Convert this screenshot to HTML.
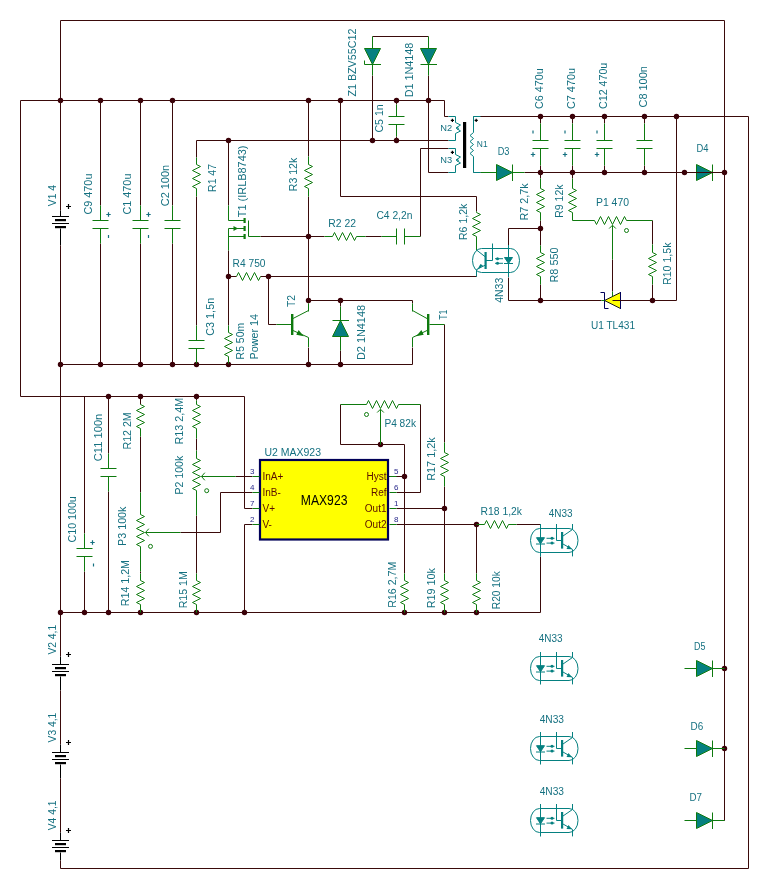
<!DOCTYPE html>
<html><head><meta charset="utf-8"><style>
html,body{margin:0;padding:0;background:#fff;}
svg{display:block;font-family:"Liberation Sans", sans-serif;will-change:transform;}
</style></head><body>
<svg width="768" height="889" viewBox="0 0 768 889">
<rect width="768" height="889" fill="#ffffff"/>
<polyline points="60.5,100.5 60.5,20.5 724.5,20.5 724.5,820.5 712.5,820.5" stroke="#3a0a0a" stroke-width="1" fill="none"/>
<polyline points="20.5,396.5 20.5,100.5 444.5,100.5 444.5,116.5 448.5,116.5" stroke="#3a0a0a" stroke-width="1" fill="none"/>
<circle cx="60.5" cy="100.5" r="2.7" fill="#3a0008"/>
<circle cx="100.5" cy="100.5" r="2.7" fill="#3a0008"/>
<circle cx="140.5" cy="100.5" r="2.7" fill="#3a0008"/>
<circle cx="172.5" cy="100.5" r="2.7" fill="#3a0008"/>
<circle cx="308.5" cy="100.5" r="2.7" fill="#3a0008"/>
<circle cx="340.5" cy="100.5" r="2.7" fill="#3a0008"/>
<circle cx="396.5" cy="100.5" r="2.7" fill="#3a0008"/>
<circle cx="428.5" cy="100.5" r="2.7" fill="#3a0008"/>
<polyline points="100.5,100.5 100.5,205.5" stroke="#3a0a0a" stroke-width="1" fill="none"/>
<polyline points="100.5,243.5 100.5,364.5" stroke="#3a0a0a" stroke-width="1" fill="none"/>
<polyline points="140.5,100.5 140.5,205.5" stroke="#3a0a0a" stroke-width="1" fill="none"/>
<polyline points="140.5,243.5 140.5,364.5" stroke="#3a0a0a" stroke-width="1" fill="none"/>
<polyline points="172.5,100.5 172.5,205.5" stroke="#3a0a0a" stroke-width="1" fill="none"/>
<polyline points="172.5,243.5 172.5,364.5" stroke="#3a0a0a" stroke-width="1" fill="none"/>
<polyline points="60.5,364.5 412.5,364.5 412.5,347.5" stroke="#3a0a0a" stroke-width="1" fill="none"/>
<circle cx="60.5" cy="364.5" r="2.7" fill="#3a0008"/>
<circle cx="100.5" cy="364.5" r="2.7" fill="#3a0008"/>
<circle cx="140.5" cy="364.5" r="2.7" fill="#3a0008"/>
<circle cx="172.5" cy="364.5" r="2.7" fill="#3a0008"/>
<circle cx="196.5" cy="364.5" r="2.7" fill="#3a0008"/>
<circle cx="228.5" cy="364.5" r="2.7" fill="#3a0008"/>
<circle cx="308.5" cy="364.5" r="2.7" fill="#3a0008"/>
<circle cx="340.5" cy="364.5" r="2.7" fill="#3a0008"/>
<polyline points="60.5,100.5 60.5,210.5" stroke="#3a0a0a" stroke-width="1" fill="none"/>
<polyline points="60.5,210.5 60.5,216.5" stroke="#000000" stroke-width="1" fill="none"/>
<polyline points="60.5,228.5 60.5,245.5" stroke="#000000" stroke-width="1" fill="none"/>
<polyline points="60.5,245.5 60.5,656.5" stroke="#3a0a0a" stroke-width="1" fill="none"/>
<polyline points="60.5,656.5 60.5,664.5" stroke="#000000" stroke-width="1" fill="none"/>
<polyline points="60.5,676.5 60.5,690.5" stroke="#000000" stroke-width="1" fill="none"/>
<polyline points="60.5,690.5 60.5,744.5" stroke="#3a0a0a" stroke-width="1" fill="none"/>
<polyline points="60.5,744.5 60.5,752.5" stroke="#000000" stroke-width="1" fill="none"/>
<polyline points="60.5,764.5 60.5,778.5" stroke="#000000" stroke-width="1" fill="none"/>
<polyline points="60.5,778.5 60.5,832.5" stroke="#3a0a0a" stroke-width="1" fill="none"/>
<polyline points="60.5,832.5 60.5,840.5" stroke="#000000" stroke-width="1" fill="none"/>
<polyline points="60.5,852.5 60.5,860.5" stroke="#000000" stroke-width="1" fill="none"/>
<polyline points="60.5,860.5 60.5,868.5 748.5,868.5 748.5,116.5 473.5,116.5" stroke="#3a0a0a" stroke-width="1" fill="none"/>
<polyline points="20.5,396.5 244.5,396.5 244.5,508.5 252.5,508.5" stroke="#3a0a0a" stroke-width="1" fill="none"/>
<circle cx="108.5" cy="396.5" r="2.7" fill="#3a0008"/>
<circle cx="140.5" cy="396.5" r="2.7" fill="#3a0008"/>
<circle cx="196.5" cy="396.5" r="2.7" fill="#3a0008"/>
<polyline points="84.5,396.5 84.5,533.5" stroke="#3a0a0a" stroke-width="1" fill="none"/>
<polyline points="84.5,571.5 84.5,612.5" stroke="#3a0a0a" stroke-width="1" fill="none"/>
<polyline points="108.5,396.5 108.5,453.5" stroke="#3a0a0a" stroke-width="1" fill="none"/>
<polyline points="108.5,491.5 108.5,612.5" stroke="#3a0a0a" stroke-width="1" fill="none"/>
<polyline points="60.5,612.5 540.5,612.5 540.5,556.5" stroke="#3a0a0a" stroke-width="1" fill="none"/>
<circle cx="60.5" cy="612.5" r="2.7" fill="#3a0008"/>
<circle cx="84.5" cy="612.5" r="2.7" fill="#3a0008"/>
<circle cx="108.5" cy="612.5" r="2.7" fill="#3a0008"/>
<circle cx="140.5" cy="612.5" r="2.7" fill="#3a0008"/>
<circle cx="196.5" cy="612.5" r="2.7" fill="#3a0008"/>
<circle cx="244.5" cy="612.5" r="2.7" fill="#3a0008"/>
<circle cx="404.5" cy="612.5" r="2.7" fill="#3a0008"/>
<circle cx="444.5" cy="612.5" r="2.7" fill="#3a0008"/>
<circle cx="476.5" cy="612.5" r="2.7" fill="#3a0008"/>
<polyline points="140.5,396.5 140.5,404.5" stroke="#3a0a0a" stroke-width="1" fill="none"/>
<polyline points="140.5,436.5 140.5,492.5" stroke="#3a0a0a" stroke-width="1" fill="none"/>
<polyline points="140.5,571.5 140.5,573.5" stroke="#3a0a0a" stroke-width="1" fill="none"/>
<polyline points="196.5,396.5 196.5,400.5" stroke="#3a0a0a" stroke-width="1" fill="none"/>
<polyline points="196.5,438.5 196.5,450.5" stroke="#3a0a0a" stroke-width="1" fill="none"/>
<polyline points="196.5,515.5 196.5,573.5" stroke="#3a0a0a" stroke-width="1" fill="none"/>
<polyline points="252.5,524.5 244.5,524.5 244.5,612.5" stroke="#3a0a0a" stroke-width="1" fill="none"/>
<polyline points="252.5,476.5 235.5,476.5" stroke="#3a0a0a" stroke-width="1" fill="none"/>
<polyline points="252.5,492.5 220.5,492.5 220.5,532.5 180.5,532.5" stroke="#3a0a0a" stroke-width="1" fill="none"/>
<polyline points="196.5,140.5 448.5,140.5" stroke="#3a0a0a" stroke-width="1" fill="none"/>
<circle cx="228.5" cy="140.5" r="2.7" fill="#3a0008"/>
<circle cx="372.5" cy="140.5" r="2.7" fill="#3a0008"/>
<circle cx="396.5" cy="140.5" r="2.7" fill="#3a0008"/>
<polyline points="196.5,140.5 196.5,157.5" stroke="#3a0a0a" stroke-width="1" fill="none"/>
<polyline points="196.5,196.5 196.5,325.5" stroke="#3a0a0a" stroke-width="1" fill="none"/>
<polyline points="196.5,363.5 196.5,364.5" stroke="#3a0a0a" stroke-width="1" fill="none"/>
<polyline points="228.5,140.5 228.5,205.5" stroke="#3a0a0a" stroke-width="1" fill="none"/>
<polyline points="228.5,250.5 228.5,325.5" stroke="#3a0a0a" stroke-width="1" fill="none"/>
<circle cx="228.5" cy="276.5" r="2.7" fill="#3a0008"/>
<polyline points="228.5,363.5 228.5,364.5" stroke="#3a0a0a" stroke-width="1" fill="none"/>
<polyline points="260.5,236.5 324.5,236.5" stroke="#3a0a0a" stroke-width="1" fill="none"/>
<polyline points="365.5,236.5 381.5,236.5" stroke="#3a0a0a" stroke-width="1" fill="none"/>
<polyline points="420.5,236.5 420.5,148.5 448.5,148.5" stroke="#3a0a0a" stroke-width="1" fill="none"/>
<circle cx="308.5" cy="236.5" r="2.7" fill="#3a0008"/>
<polyline points="308.5,100.5 308.5,156.5" stroke="#3a0a0a" stroke-width="1" fill="none"/>
<polyline points="308.5,196.5 308.5,303.5" stroke="#3a0a0a" stroke-width="1" fill="none"/>
<circle cx="308.5" cy="300.5" r="2.7" fill="#3a0008"/>
<polyline points="308.5,347.5 308.5,364.5" stroke="#3a0a0a" stroke-width="1" fill="none"/>
<polyline points="228.5,276.5 236.5,276.5" stroke="#3a0a0a" stroke-width="1" fill="none"/>
<polyline points="260.5,276.5 476.5,276.5 476.5,270.5" stroke="#3a0a0a" stroke-width="1" fill="none"/>
<circle cx="268.5" cy="276.5" r="2.7" fill="#3a0008"/>
<polyline points="268.5,276.5 268.5,324.5 276.5,324.5" stroke="#3a0a0a" stroke-width="1" fill="none"/>
<polyline points="308.5,300.5 412.5,300.5 412.5,303.5" stroke="#3a0a0a" stroke-width="1" fill="none"/>
<circle cx="340.5" cy="300.5" r="2.7" fill="#3a0008"/>
<polyline points="340.5,300.5 340.5,306.5" stroke="#3a0a0a" stroke-width="1" fill="none"/>
<polyline points="340.5,350.5 340.5,364.5" stroke="#3a0a0a" stroke-width="1" fill="none"/>
<polyline points="340.5,100.5 340.5,196.5 476.5,196.5 476.5,211.5" stroke="#3a0a0a" stroke-width="1" fill="none"/>
<polyline points="372.5,140.5 372.5,75.5" stroke="#3a0a0a" stroke-width="1" fill="none"/>
<polyline points="372.5,36.5 428.5,36.5" stroke="#3a0a0a" stroke-width="1" fill="none"/>
<polyline points="428.5,75.5 428.5,172.5 448.5,172.5" stroke="#3a0a0a" stroke-width="1" fill="none"/>
<polyline points="396.5,100.5 396.5,104.5" stroke="#3a0a0a" stroke-width="1" fill="none"/>
<polyline points="396.5,136.5 396.5,140.5" stroke="#3a0a0a" stroke-width="1" fill="none"/>
<polyline points="473.5,172.5 480.5,172.5" stroke="#3a0a0a" stroke-width="1" fill="none"/>
<polyline points="524.5,172.5 684.5,172.5" stroke="#3a0a0a" stroke-width="1" fill="none"/>
<polyline points="684.5,172.5 724.5,172.5" stroke="#3a0a0a" stroke-width="1" fill="none"/>
<circle cx="540.5" cy="116.5" r="2.7" fill="#3a0008"/>
<circle cx="540.5" cy="172.5" r="2.7" fill="#3a0008"/>
<circle cx="572.5" cy="116.5" r="2.7" fill="#3a0008"/>
<circle cx="572.5" cy="172.5" r="2.7" fill="#3a0008"/>
<circle cx="604.5" cy="116.5" r="2.7" fill="#3a0008"/>
<circle cx="604.5" cy="172.5" r="2.7" fill="#3a0008"/>
<circle cx="644.5" cy="116.5" r="2.7" fill="#3a0008"/>
<circle cx="644.5" cy="172.5" r="2.7" fill="#3a0008"/>
<circle cx="676.5" cy="116.5" r="2.7" fill="#3a0008"/>
<circle cx="684.5" cy="172.5" r="2.7" fill="#3a0008"/>
<circle cx="724.5" cy="172.5" r="2.7" fill="#3a0008"/>
<polyline points="676.5,116.5 676.5,300.5 652.5,300.5" stroke="#3a0a0a" stroke-width="1" fill="none"/>
<polyline points="540.5,116.5 540.5,123.5" stroke="#3a0a0a" stroke-width="1" fill="none"/>
<polyline points="540.5,165.5 540.5,172.5" stroke="#3a0a0a" stroke-width="1" fill="none"/>
<polyline points="572.5,116.5 572.5,123.5" stroke="#3a0a0a" stroke-width="1" fill="none"/>
<polyline points="572.5,165.5 572.5,172.5" stroke="#3a0a0a" stroke-width="1" fill="none"/>
<polyline points="604.5,116.5 604.5,123.5" stroke="#3a0a0a" stroke-width="1" fill="none"/>
<polyline points="604.5,165.5 604.5,172.5" stroke="#3a0a0a" stroke-width="1" fill="none"/>
<polyline points="644.5,116.5 644.5,123.5" stroke="#3a0a0a" stroke-width="1" fill="none"/>
<polyline points="644.5,165.5 644.5,172.5" stroke="#3a0a0a" stroke-width="1" fill="none"/>
<polyline points="540.5,172.5 540.5,178.5" stroke="#3a0a0a" stroke-width="1" fill="none"/>
<polyline points="540.5,220.5 540.5,245.5" stroke="#3a0a0a" stroke-width="1" fill="none"/>
<polyline points="508.5,245.5 508.5,228.5 540.5,228.5" stroke="#3a0a0a" stroke-width="1" fill="none"/>
<circle cx="540.5" cy="228.5" r="2.7" fill="#3a0008"/>
<polyline points="540.5,284.5 540.5,300.5" stroke="#3a0a0a" stroke-width="1" fill="none"/>
<polyline points="508.5,277.5 508.5,300.5 601.5,300.5" stroke="#3a0a0a" stroke-width="1" fill="none"/>
<circle cx="540.5" cy="300.5" r="2.7" fill="#3a0008"/>
<polyline points="620.5,300.5 652.5,300.5" stroke="#3a0a0a" stroke-width="1" fill="none"/>
<circle cx="652.5" cy="300.5" r="2.7" fill="#3a0008"/>
<polyline points="652.5,284.5 652.5,300.5" stroke="#3a0a0a" stroke-width="1" fill="none"/>
<polyline points="572.5,172.5 572.5,178.5" stroke="#3a0a0a" stroke-width="1" fill="none"/>
<polyline points="612.5,259.5 612.5,291.5" stroke="#3a0a0a" stroke-width="1" fill="none"/>
<polyline points="444.5,324.5 444.5,442.5" stroke="#3a0a0a" stroke-width="1" fill="none"/>
<polyline points="444.5,486.5 444.5,573.5" stroke="#3a0a0a" stroke-width="1" fill="none"/>
<circle cx="444.5" cy="508.5" r="2.7" fill="#3a0008"/>
<polyline points="340.5,404.5 340.5,444.5 404.5,444.5 404.5,573.5" stroke="#3a0a0a" stroke-width="1" fill="none"/>
<circle cx="380.5" cy="444.5" r="2.7" fill="#3a0008"/>
<circle cx="404.5" cy="476.5" r="2.7" fill="#3a0008"/>
<polyline points="388.5,476.5 404.5,476.5" stroke="#3a0a0a" stroke-width="1" fill="none"/>
<polyline points="420.5,404.5 420.5,492.5 396.5,492.5" stroke="#3a0a0a" stroke-width="1" fill="none"/>
<polyline points="396.5,508.5 444.5,508.5" stroke="#3a0a0a" stroke-width="1" fill="none"/>
<polyline points="396.5,524.5 476.5,524.5 476.5,573.5" stroke="#3a0a0a" stroke-width="1" fill="none"/>
<circle cx="476.5" cy="524.5" r="2.7" fill="#3a0008"/>
<polyline points="516.5,524.5 540.5,524.5" stroke="#3a0a0a" stroke-width="1" fill="none"/>
<polyline points="724.5,668.5 712.5,668.5" stroke="#3a0a0a" stroke-width="1" fill="none"/>
<polyline points="724.5,748.5 712.5,748.5" stroke="#3a0a0a" stroke-width="1" fill="none"/>
<circle cx="724.5" cy="668.5" r="2.7" fill="#3a0008"/>
<circle cx="724.5" cy="748.5" r="2.7" fill="#3a0008"/>
<polyline points="100.5,205.5 100.5,220.5" stroke="#0e7a0e" stroke-width="1" fill="none"/>
<polyline points="100.5,228.5 100.5,243.5" stroke="#0e7a0e" stroke-width="1" fill="none"/>
<polyline points="92.5,220.5 108.5,220.5" stroke="#0e7a0e" stroke-width="1" fill="none"/>
<polyline points="92.5,228.5 108.5,228.5" stroke="#0e7a0e" stroke-width="1" fill="none"/>
<polyline points="140.5,205.5 140.5,220.5" stroke="#0e7a0e" stroke-width="1" fill="none"/>
<polyline points="140.5,228.5 140.5,243.5" stroke="#0e7a0e" stroke-width="1" fill="none"/>
<polyline points="132.5,220.5 148.5,220.5" stroke="#0e7a0e" stroke-width="1" fill="none"/>
<polyline points="132.5,228.5 148.5,228.5" stroke="#0e7a0e" stroke-width="1" fill="none"/>
<polyline points="172.5,205.5 172.5,220.5" stroke="#0e7a0e" stroke-width="1" fill="none"/>
<polyline points="172.5,228.5 172.5,243.5" stroke="#0e7a0e" stroke-width="1" fill="none"/>
<polyline points="164.5,220.5 180.5,220.5" stroke="#0e7a0e" stroke-width="1" fill="none"/>
<polyline points="164.5,228.5 180.5,228.5" stroke="#0e7a0e" stroke-width="1" fill="none"/>
<path d="M106.3 214.5H110.7M108.5 212.3V216.7" stroke="#147080" stroke-width="1.2" fill="none"/>
<path d="M108.5 235V238" stroke="#147080" stroke-width="1.2" fill="none"/>
<path d="M146.3 214.5H150.7M148.5 212.3V216.7" stroke="#147080" stroke-width="1.2" fill="none"/>
<path d="M148.5 235V238" stroke="#147080" stroke-width="1.2" fill="none"/>
<path d="M52 216.5H69M52 223.5H69" stroke="#000000" stroke-width="1.1" fill="none"/>
<rect x="55" y="219" width="11" height="2.2" fill="#000000"/>
<rect x="55" y="226" width="11" height="2.2" fill="#000000"/>
<path d="M66 206.5H71M68.5 204V209" stroke="#000000" stroke-width="1.2" fill="none"/>
<path d="M52 664.5H69M52 671.5H69" stroke="#000000" stroke-width="1.1" fill="none"/>
<rect x="55" y="667" width="11" height="2.2" fill="#000000"/>
<rect x="55" y="674" width="11" height="2.2" fill="#000000"/>
<path d="M66 654.5H71M68.5 652V657" stroke="#000000" stroke-width="1.2" fill="none"/>
<path d="M52 752.5H69M52 759.5H69" stroke="#000000" stroke-width="1.1" fill="none"/>
<rect x="55" y="755" width="11" height="2.2" fill="#000000"/>
<rect x="55" y="762" width="11" height="2.2" fill="#000000"/>
<path d="M66 742.5H71M68.5 740V745" stroke="#000000" stroke-width="1.2" fill="none"/>
<path d="M52 840.5H69M52 847.5H69" stroke="#000000" stroke-width="1.1" fill="none"/>
<rect x="55" y="843" width="11" height="2.2" fill="#000000"/>
<rect x="55" y="850" width="11" height="2.2" fill="#000000"/>
<path d="M66 830.5H71M68.5 828V833" stroke="#000000" stroke-width="1.2" fill="none"/>
<polyline points="196.5,157.5 196.5,164.5 200.5,166.5 192.5,170.5 200.5,174.5 192.5,178.5 200.5,182.5 192.5,186.5 196.5,188.5 196.5,196.5" stroke="#0e7a0e" stroke-width="1" fill="none"/>
<polyline points="196.5,325.5 196.5,340.5" stroke="#0e7a0e" stroke-width="1" fill="none"/>
<polyline points="196.5,348.5 196.5,363.5" stroke="#0e7a0e" stroke-width="1" fill="none"/>
<polyline points="188.5,340.5 204.5,340.5" stroke="#0e7a0e" stroke-width="1" fill="none"/>
<polyline points="188.5,348.5 204.5,348.5" stroke="#0e7a0e" stroke-width="1" fill="none"/>
<polyline points="228.5,325.5 228.5,332.5 232.5,334.5 224.5,338.5 232.5,342.5 224.5,346.5 232.5,350.5 224.5,354.5 228.5,356.5 228.5,363.5" stroke="#0e7a0e" stroke-width="1" fill="none"/>
<polyline points="308.5,156.5 308.5,164.5 312.5,166.5 304.5,170.5 312.5,174.5 304.5,178.5 312.5,182.5 304.5,186.5 308.5,188.5 308.5,196.5" stroke="#0e7a0e" stroke-width="1" fill="none"/>
<polyline points="236.5,276.5 236.5,276.5 238.5,272.5 242.5,280.5 246.5,272.5 250.5,280.5 254.5,272.5 258.5,280.5 260.5,276.5 260.5,276.5" stroke="#0e7a0e" stroke-width="1" fill="none"/>
<polyline points="324.5,236.5 332.5,236.5 334.5,232.5 338.5,240.5 342.5,232.5 346.5,240.5 350.5,232.5 354.5,240.5 356.5,236.5 365.5,236.5" stroke="#0e7a0e" stroke-width="1" fill="none"/>
<polyline points="381.5,236.5 396.5,236.5" stroke="#0e7a0e" stroke-width="1" fill="none"/>
<polyline points="404.5,236.5 420.5,236.5" stroke="#0e7a0e" stroke-width="1" fill="none"/>
<polyline points="396.5,228.5 396.5,244.5" stroke="#0e7a0e" stroke-width="1" fill="none"/>
<polyline points="404.5,228.5 404.5,244.5" stroke="#0e7a0e" stroke-width="1" fill="none"/>
<polyline points="396.5,104.5 396.5,116.5" stroke="#0e7a0e" stroke-width="1" fill="none"/>
<polyline points="396.5,124.5 396.5,136.5" stroke="#0e7a0e" stroke-width="1" fill="none"/>
<polyline points="388.5,116.5 404.5,116.5" stroke="#0e7a0e" stroke-width="1" fill="none"/>
<polyline points="388.5,124.5 404.5,124.5" stroke="#0e7a0e" stroke-width="1" fill="none"/>
<polyline points="476.5,211.5 476.5,212.5 480.5,214.5 472.5,218.5 480.5,222.5 472.5,226.5 480.5,230.5 472.5,234.5 476.5,236.5 476.5,250.5" stroke="#0e7a0e" stroke-width="1" fill="none"/>
<polyline points="540.5,178.5 540.5,188.5 544.5,190.5 536.5,194.5 544.5,198.5 536.5,202.5 544.5,206.5 536.5,210.5 540.5,212.5 540.5,220.5" stroke="#0e7a0e" stroke-width="1" fill="none"/>
<polyline points="572.5,178.5 572.5,188.5 576.5,190.5 568.5,194.5 576.5,198.5 568.5,202.5 576.5,206.5 568.5,210.5 572.5,212.5 572.5,220.5" stroke="#0e7a0e" stroke-width="1" fill="none"/>
<polyline points="572.5,220.5 594.5,220.5" stroke="#0e7a0e" stroke-width="1" fill="none"/>
<polyline points="540.5,245.5 540.5,252.5 544.5,254.5 536.5,258.5 544.5,262.5 536.5,266.5 544.5,270.5 536.5,274.5 540.5,276.5 540.5,284.5" stroke="#0e7a0e" stroke-width="1" fill="none"/>
<polyline points="652.5,220.5 652.5,244.5" stroke="#3a0a0a" stroke-width="1" fill="none"/>
<polyline points="652.5,244.5 652.5,252.5 656.5,254.5 648.5,258.5 656.5,262.5 648.5,266.5 656.5,270.5 648.5,274.5 652.5,276.5 652.5,284.5" stroke="#0e7a0e" stroke-width="1" fill="none"/>
<polyline points="540.5,123.5 540.5,140.5" stroke="#0e7a0e" stroke-width="1" fill="none"/>
<polyline points="540.5,148.5 540.5,165.5" stroke="#0e7a0e" stroke-width="1" fill="none"/>
<polyline points="532.5,140.5 548.5,140.5" stroke="#0e7a0e" stroke-width="1" fill="none"/>
<polyline points="532.5,148.5 548.5,148.5" stroke="#0e7a0e" stroke-width="1" fill="none"/>
<polyline points="572.5,123.5 572.5,140.5" stroke="#0e7a0e" stroke-width="1" fill="none"/>
<polyline points="572.5,148.5 572.5,165.5" stroke="#0e7a0e" stroke-width="1" fill="none"/>
<polyline points="564.5,140.5 580.5,140.5" stroke="#0e7a0e" stroke-width="1" fill="none"/>
<polyline points="564.5,148.5 580.5,148.5" stroke="#0e7a0e" stroke-width="1" fill="none"/>
<polyline points="604.5,123.5 604.5,140.5" stroke="#0e7a0e" stroke-width="1" fill="none"/>
<polyline points="604.5,148.5 604.5,165.5" stroke="#0e7a0e" stroke-width="1" fill="none"/>
<polyline points="596.5,140.5 612.5,140.5" stroke="#0e7a0e" stroke-width="1" fill="none"/>
<polyline points="596.5,148.5 612.5,148.5" stroke="#0e7a0e" stroke-width="1" fill="none"/>
<polyline points="644.5,123.5 644.5,140.5" stroke="#0e7a0e" stroke-width="1" fill="none"/>
<polyline points="644.5,148.5 644.5,165.5" stroke="#0e7a0e" stroke-width="1" fill="none"/>
<polyline points="636.5,140.5 652.5,140.5" stroke="#0e7a0e" stroke-width="1" fill="none"/>
<polyline points="636.5,148.5 652.5,148.5" stroke="#0e7a0e" stroke-width="1" fill="none"/>
<path d="M533 130.5V133.5" stroke="#147080" stroke-width="1.2" fill="none"/>
<path d="M530.8 154.5H535.2M533 152.3V156.7" stroke="#147080" stroke-width="1.2" fill="none"/>
<path d="M565 130.5V133.5" stroke="#147080" stroke-width="1.2" fill="none"/>
<path d="M562.8 154.5H567.2M565 152.3V156.7" stroke="#147080" stroke-width="1.2" fill="none"/>
<path d="M597 130.5V133.5" stroke="#147080" stroke-width="1.2" fill="none"/>
<path d="M594.8 154.5H599.2M597 152.3V156.7" stroke="#147080" stroke-width="1.2" fill="none"/>
<polyline points="594.5,220.5 596.5,224.5 600.5,216.5 604.5,224.5 608.5,216.5 612.5,224.5 616.5,216.5 620.5,224.5 624.5,216.5 626.5,220.5 652.5,220.5" stroke="#0e7a0e" stroke-width="1" fill="none"/>
<polyline points="612.5,225.5 612.5,259.5" stroke="#0e7a0e" stroke-width="1" fill="none"/>
<path d="M609.2 228.5L612.5 225.2L615.8 228.5" stroke="#0e7a0e" fill="none"/>
<circle cx="626.5" cy="230.5" r="2" stroke="#0e7a0e" fill="none"/>
<path d="M620.5 292.5V308.5L604.5 300.5Z" fill="#ffff00" stroke="#181818"/>
<path d="M600.5 292.5H604.5V308.5H608.5M620.5 292V309" stroke="#000058" fill="none"/>
<polyline points="612.5,291.5 612.5,296.5" stroke="#0e7a0e" stroke-width="1" fill="none"/>
<polyline points="612.5,300.5 628.5,300.5" stroke="#3a0a0a" stroke-width="1" fill="none"/>
<polyline points="601.5,300.5 604.5,300.5" stroke="#0e7a0e" stroke-width="1" fill="none"/>
<polyline points="340.5,306.5 340.5,350.5" stroke="#0e7a0e" stroke-width="1" fill="none"/>
<path d="M332.5 336.5H348.5L340.5 320.5Z" fill="#058080" stroke="#0e7a0e" stroke-width="1"/>
<path d="M332.5 320.5H349" stroke="#0e7a0e" fill="none"/>
<polyline points="276.5,324.5 291.5,324.5" stroke="#0e7a0e" stroke-width="1" fill="none"/>
<rect x="291" y="314" width="2.4" height="21" fill="#0e7a0e"/>
<polyline points="308.5,303.5 308.5,311.5" stroke="#0e7a0e" stroke-width="1" fill="none"/>
<path d="M293 318.5L308.5 310.5" stroke="#0e7a0e" fill="none"/>
<path d="M293 330.5L308.5 337.5V347" stroke="#0e7a0e" fill="none"/>
<path d="M303.8 336.3L296.3 334.8L298.6 330.1Z" fill="#0e7a0e"/>
<polyline points="412.5,303.5 412.5,311.5" stroke="#0e7a0e" stroke-width="1" fill="none"/>
<rect x="427" y="314" width="2.4" height="21" fill="#0e7a0e"/>
<path d="M427 318.5L412.5 310.5" stroke="#0e7a0e" fill="none"/>
<path d="M427 330.5L412.5 337.5V347" stroke="#0e7a0e" fill="none"/>
<path d="M416.2 336.3L423.7 334.8L421.4 330.1Z" fill="#0e7a0e"/>
<polyline points="429.5,324.5 444.5,324.5" stroke="#0e7a0e" stroke-width="1" fill="none"/>
<polyline points="228.5,205.5 228.5,220.5 244.5,220.5" stroke="#0e7a0e" stroke-width="1" fill="none"/>
<polyline points="228.5,250.5 228.5,228.5 244.5,228.5" stroke="#0e7a0e" stroke-width="1" fill="none"/>
<polyline points="228.5,236.5 244.5,236.5" stroke="#0e7a0e" stroke-width="1" fill="none"/>
<rect x="243.5" y="218" width="2.2" height="5" fill="#0e7a0e"/>
<rect x="243.5" y="226" width="2.2" height="5" fill="#0e7a0e"/>
<rect x="243.5" y="234" width="2.2" height="5" fill="#0e7a0e"/>
<path d="M233.5 226L238 228.5L233.5 231Z" fill="#0e7a0e"/>
<polyline points="248.5,220.5 248.5,236.5 260.5,236.5" stroke="#0e7a0e" stroke-width="1" fill="none"/>
<polyline points="372.5,36.5 372.5,48.5" stroke="#0e7a0e" stroke-width="1" fill="none"/>
<polyline points="372.5,64.5 372.5,75.5" stroke="#0e7a0e" stroke-width="1" fill="none"/>
<polyline points="428.5,36.5 428.5,48.5" stroke="#0e7a0e" stroke-width="1" fill="none"/>
<polyline points="428.5,64.5 428.5,75.5" stroke="#0e7a0e" stroke-width="1" fill="none"/>
<path d="M364.5 48.5H380.5L372.5 64.5Z" fill="#058080" stroke="#0e7a0e" stroke-width="1"/>
<path d="M364.5 60.5V64.5H381" stroke="#0e7a0e" fill="none"/>
<path d="M420.5 48.5H436.5L428.5 64.5Z" fill="#058080" stroke="#0e7a0e" stroke-width="1"/>
<path d="M420.5 64.5H437" stroke="#0e7a0e" fill="none"/>
<polyline points="480.5,172.5 496.5,172.5" stroke="#0e7a0e" stroke-width="1" fill="none"/>
<polyline points="512.5,172.5 524.5,172.5" stroke="#0e7a0e" stroke-width="1" fill="none"/>
<path d="M496.5 164.5V180.5L512.5 172.5Z" fill="#058080" stroke="#0e7a0e" stroke-width="1"/>
<path d="M512.5 164.5V181" stroke="#0e7a0e" fill="none"/>
<path d="M696.5 164.5V180.5L712.5 172.5Z" fill="#058080" stroke="#0e7a0e" stroke-width="1"/>
<path d="M712.5 164.5V181" stroke="#0e7a0e" fill="none"/>
<polyline points="684.5,172.5 724.5,172.5" stroke="#3a0a0a" stroke-width="1" fill="none"/>
<polyline points="684.5,668.5 696.5,668.5" stroke="#0e7a0e" stroke-width="1" fill="none"/>
<polyline points="712.5,668.5 724.5,668.5" stroke="#0e7a0e" stroke-width="1" fill="none"/>
<path d="M696.5 660.5V676.5L712.5 668.5Z" fill="#058080" stroke="#0e7a0e" stroke-width="1"/>
<path d="M712.5 660.5V677" stroke="#0e7a0e" fill="none"/>
<polyline points="684.5,748.5 696.5,748.5" stroke="#0e7a0e" stroke-width="1" fill="none"/>
<polyline points="712.5,748.5 724.5,748.5" stroke="#0e7a0e" stroke-width="1" fill="none"/>
<path d="M696.5 740.5V756.5L712.5 748.5Z" fill="#058080" stroke="#0e7a0e" stroke-width="1"/>
<path d="M712.5 740.5V757" stroke="#0e7a0e" fill="none"/>
<polyline points="684.5,820.5 696.5,820.5" stroke="#0e7a0e" stroke-width="1" fill="none"/>
<polyline points="712.5,820.5 712.5,820.5" stroke="#0e7a0e" stroke-width="1" fill="none"/>
<path d="M696.5 812.5V828.5L712.5 820.5Z" fill="#058080" stroke="#0e7a0e" stroke-width="1"/>
<path d="M712.5 812.5V829" stroke="#0e7a0e" fill="none"/>
<polyline points="712.5,820.5 724.5,820.5" stroke="#0e7a0e" stroke-width="1" fill="none"/>
<polyline points="84.5,533.5 84.5,548.5" stroke="#0e7a0e" stroke-width="1" fill="none"/>
<polyline points="84.5,556.5 84.5,571.5" stroke="#0e7a0e" stroke-width="1" fill="none"/>
<polyline points="76.5,548.5 92.5,548.5" stroke="#0e7a0e" stroke-width="1" fill="none"/>
<polyline points="76.5,556.5 92.5,556.5" stroke="#0e7a0e" stroke-width="1" fill="none"/>
<path d="M90.3 542.5H94.7M92.5 540.3V544.7" stroke="#147080" stroke-width="1.2" fill="none"/>
<path d="M93.5 563.5V566.5" stroke="#147080" stroke-width="1.2" fill="none"/>
<polyline points="108.5,453.5 108.5,468.5" stroke="#0e7a0e" stroke-width="1" fill="none"/>
<polyline points="108.5,476.5 108.5,491.5" stroke="#0e7a0e" stroke-width="1" fill="none"/>
<polyline points="100.5,468.5 116.5,468.5" stroke="#0e7a0e" stroke-width="1" fill="none"/>
<polyline points="100.5,476.5 116.5,476.5" stroke="#0e7a0e" stroke-width="1" fill="none"/>
<polyline points="140.5,404.5 140.5,404.5 144.5,406.5 136.5,410.5 144.5,414.5 136.5,418.5 144.5,422.5 136.5,426.5 140.5,428.5 140.5,436.5" stroke="#0e7a0e" stroke-width="1" fill="none"/>
<polyline points="196.5,400.5 196.5,404.5 200.5,406.5 192.5,410.5 200.5,414.5 192.5,418.5 200.5,422.5 192.5,426.5 196.5,428.5 196.5,438.5" stroke="#0e7a0e" stroke-width="1" fill="none"/>
<polyline points="140.5,573.5 140.5,580.5 144.5,582.5 136.5,586.5 144.5,590.5 136.5,594.5 144.5,598.5 136.5,602.5 140.5,604.5 140.5,612.5" stroke="#0e7a0e" stroke-width="1" fill="none"/>
<polyline points="196.5,573.5 196.5,580.5 200.5,582.5 192.5,586.5 200.5,590.5 192.5,594.5 200.5,598.5 192.5,602.5 196.5,604.5 196.5,612.5" stroke="#0e7a0e" stroke-width="1" fill="none"/>
<polyline points="140.5,492.5 140.5,514.5 144.5,516.5 136.5,520.5 144.5,524.5 136.5,528.5 144.5,532.5 136.5,536.5 144.5,540.5 136.5,544.5 140.5,546.5 140.5,571.5" stroke="#0e7a0e" stroke-width="1" fill="none"/>
<polyline points="145.5,532.5 180.5,532.5" stroke="#0e7a0e" stroke-width="1" fill="none"/>
<path d="M148.8 528.7L145.5 532.5L148.8 536.3" stroke="#0e7a0e" fill="none"/>
<circle cx="150.5" cy="546.4" r="2" stroke="#0e7a0e" fill="none"/>
<polyline points="196.5,450.5 196.5,458.5 200.5,460.5 192.5,464.5 200.5,468.5 192.5,472.5 200.5,476.5 192.5,480.5 200.5,484.5 192.5,488.5 196.5,490.5 196.5,515.5" stroke="#0e7a0e" stroke-width="1" fill="none"/>
<polyline points="201.5,476.5 235.5,476.5" stroke="#0e7a0e" stroke-width="1" fill="none"/>
<path d="M204.8 472.7L201.5 476.5L204.8 480.3" stroke="#0e7a0e" fill="none"/>
<circle cx="206.7" cy="490.7" r="2" stroke="#0e7a0e" fill="none"/>
<polyline points="340.5,404.5 366.5,404.5 368.5,400.5 372.5,408.5 376.5,400.5 380.5,408.5 384.5,400.5 388.5,408.5 392.5,400.5 396.5,408.5 398.5,404.5 420.5,404.5" stroke="#0e7a0e" stroke-width="1" fill="none"/>
<polyline points="380.5,409.5 380.5,444.5" stroke="#0e7a0e" stroke-width="1" fill="none"/>
<path d="M377.2 412.5L380.5 409.2L383.8 412.5" stroke="#0e7a0e" fill="none"/>
<circle cx="366.5" cy="414.5" r="2" stroke="#0e7a0e" fill="none"/>
<polyline points="444.5,442.5 444.5,452.5 448.5,454.5 440.5,458.5 448.5,462.5 440.5,466.5 448.5,470.5 440.5,474.5 444.5,476.5 444.5,486.5" stroke="#0e7a0e" stroke-width="1" fill="none"/>
<polyline points="404.5,573.5 404.5,580.5 408.5,582.5 400.5,586.5 408.5,590.5 400.5,594.5 408.5,598.5 400.5,602.5 404.5,604.5 404.5,612.5" stroke="#0e7a0e" stroke-width="1" fill="none"/>
<polyline points="444.5,573.5 444.5,580.5 448.5,582.5 440.5,586.5 448.5,590.5 440.5,594.5 448.5,598.5 440.5,602.5 444.5,604.5 444.5,612.5" stroke="#0e7a0e" stroke-width="1" fill="none"/>
<polyline points="476.5,573.5 476.5,580.5 480.5,582.5 472.5,586.5 480.5,590.5 472.5,594.5 480.5,598.5 472.5,602.5 476.5,604.5 476.5,612.5" stroke="#0e7a0e" stroke-width="1" fill="none"/>
<polyline points="476.5,524.5 484.5,524.5 486.5,520.5 490.5,528.5 494.5,520.5 498.5,528.5 502.5,520.5 506.5,528.5 508.5,524.5 516.5,524.5" stroke="#0e7a0e" stroke-width="1" fill="none"/>
<rect x="260" y="460" width="128" height="79.5" fill="#ffff00" stroke="#000058" stroke-width="2.2"/>
<polyline points="252.5,476.5 259.5,476.5" stroke="#0e7a0e" stroke-width="1" fill="none"/>
<polyline points="389.5,476.5 396.5,476.5" stroke="#0e7a0e" stroke-width="1" fill="none"/>
<polyline points="252.5,492.5 259.5,492.5" stroke="#0e7a0e" stroke-width="1" fill="none"/>
<polyline points="389.5,492.5 396.5,492.5" stroke="#0e7a0e" stroke-width="1" fill="none"/>
<polyline points="252.5,508.5 259.5,508.5" stroke="#0e7a0e" stroke-width="1" fill="none"/>
<polyline points="389.5,508.5 396.5,508.5" stroke="#0e7a0e" stroke-width="1" fill="none"/>
<polyline points="252.5,524.5 259.5,524.5" stroke="#0e7a0e" stroke-width="1" fill="none"/>
<polyline points="389.5,524.5 396.5,524.5" stroke="#0e7a0e" stroke-width="1" fill="none"/>
<text x="252.2" y="473.8" font-size="8" fill="#28288a" text-anchor="middle">3</text>
<text x="252.2" y="489.8" font-size="8" fill="#28288a" text-anchor="middle">4</text>
<text x="252.2" y="505.8" font-size="8" fill="#28288a" text-anchor="middle">7</text>
<text x="252.2" y="521.8" font-size="8" fill="#28288a" text-anchor="middle">2</text>
<text x="396.2" y="473.8" font-size="8" fill="#28288a" text-anchor="middle">5</text>
<text x="396.2" y="489.8" font-size="8" fill="#28288a" text-anchor="middle">6</text>
<text x="396.2" y="505.8" font-size="8" fill="#28288a" text-anchor="middle">1</text>
<text x="396.2" y="521.8" font-size="8" fill="#28288a" text-anchor="middle">8</text>
<text x="262.5" y="480" font-size="10" fill="#5a1000">InA+</text>
<text x="262.5" y="496" font-size="10" fill="#5a1000">InB-</text>
<text x="262.5" y="512" font-size="10" fill="#5a1000">V+</text>
<text x="262.5" y="528" font-size="10" fill="#5a1000">V-</text>
<text x="386.5" y="480" font-size="10" fill="#5a1000" text-anchor="end">Hyst</text>
<text x="386.5" y="496" font-size="10" fill="#5a1000" text-anchor="end">Ref</text>
<text x="386.5" y="512" font-size="10" fill="#5a1000" text-anchor="end">Out1</text>
<text x="386.5" y="528" font-size="10" fill="#5a1000" text-anchor="end">Out2</text>
<text x="300.8" y="505.2" font-size="13.8" fill="#000000" textLength="46.6" lengthAdjust="spacingAndGlyphs">MAX923</text>
<rect x="463" y="122" width="3.2" height="46" fill="#000000"/>
<polyline points="448.5,116.5 455.5,116.5 455.5,122.5" stroke="#058080" stroke-width="1" fill="none"/>
<path d="M455.5 122.5L460.5 125L456 128L460.5 131L455.5 133.5" stroke="#058080" fill="none"/>
<path d="M457 127L458.6 128.3L457 129.5" stroke="#058080" fill="none"/>
<polyline points="455.5,133.5 455.5,140.5 448.5,140.5" stroke="#058080" stroke-width="1" fill="none"/>
<polyline points="448.5,148.5 455.5,148.5 455.5,154.5" stroke="#058080" stroke-width="1" fill="none"/>
<path d="M455.5 154.5L460.5 157L456 160L460.5 163L455.5 165.5" stroke="#058080" fill="none"/>
<path d="M457 159L458.6 160.3L457 161.5" stroke="#058080" fill="none"/>
<polyline points="455.5,165.5 455.5,172.5 448.5,172.5" stroke="#058080" stroke-width="1" fill="none"/>
<polyline points="480.5,116.5 473.5,116.5 473.5,132.5" stroke="#058080" stroke-width="1" fill="none"/>
<path d="M473.5 132.5L470 135.5L473.5 138.5L470 141.5L473.5 144.5L470 147.5L473.5 150.5L470 153.5L473.5 156.5" stroke="#058080" fill="none"/>
<polyline points="473.5,156.5 473.5,172.5 480.5,172.5" stroke="#058080" stroke-width="1" fill="none"/>
<path d="M450.8 120.4H454M452.4 118.8V122" stroke="#000000" stroke-width="1.2" fill="none"/>
<path d="M450.8 152.3H454M452.4 150.7V153.9" stroke="#000000" stroke-width="1.2" fill="none"/>
<path d="M474.6 120.4H477.8M476.2 118.8V122" stroke="#000000" stroke-width="1.2" fill="none"/>
<text x="440.3" y="130.8" font-size="9.3" fill="#147080" textLength="11.9" lengthAdjust="spacingAndGlyphs">N2</text>
<text x="440.3" y="162.8" font-size="9.3" fill="#147080" textLength="11.9" lengthAdjust="spacingAndGlyphs">N3</text>
<text x="476.8" y="146.8" font-size="9.3" fill="#147080" textLength="10.8" lengthAdjust="spacingAndGlyphs">N1</text>
<rect x="472.5" y="248.5" width="47" height="24" rx="9" ry="12" stroke="#058080" fill="none"/>
<path d="M476.5 250L485.5 257" stroke="#058080" fill="none"/>
<path d="M485.5 265L476.5 269.6V276.5" stroke="#058080" fill="none"/>
<rect x="484.5" y="252" width="2.2" height="17" fill="#058080"/>
<path d="M486 260.5H492.5V243.5" stroke="#058080" fill="none"/>
<path d="M477 270L483 265.5L480.5 264Z" fill="#058080"/>
<path d="M495 258.7H503M495 263.3H503" stroke="#058080" fill="none"/>
<circle cx="497.5" cy="258.7" r="1.5" fill="#058080"/><circle cx="497.5" cy="263.3" r="1.5" fill="#058080"/>
<path d="M504.5 257.5H512.5L508.5 263.5Z" fill="#058080" stroke="#058080"/>
<path d="M504 263.5H513" stroke="#058080" fill="none"/>
<path d="M508.5 245V277" stroke="#058080" fill="none"/>
<rect x="530.5" y="528.5" width="47.5" height="24" rx="9" ry="12" stroke="#058080" fill="none"/>
<path d="M540.5 524V556.5" stroke="#058080" fill="none"/>
<path d="M536.5 537.7H544.5L540.5 543.8Z" fill="#058080" stroke="#058080"/>
<path d="M536 544H545" stroke="#058080" fill="none"/>
<path d="M546.5 538.3H554.5M546.5 543.1H554.5" stroke="#058080" fill="none"/>
<circle cx="552" cy="538.3" r="1.5" fill="#058080"/><circle cx="552" cy="543.1" r="1.5" fill="#058080"/>
<rect x="561" y="532" width="2.2" height="16.6" fill="#058080"/>
<path d="M562 540.5H556.5V524" stroke="#058080" fill="none"/>
<path d="M563 536L572.5 529.5V524" stroke="#058080" fill="none"/>
<path d="M563 544L572.5 549.4V556.4" stroke="#058080" fill="none"/>
<path d="M572 549.2L566.5 549L568.5 545Z" fill="#058080"/>
<rect x="530.5" y="656.5" width="47.5" height="24" rx="9" ry="12" stroke="#058080" fill="none"/>
<path d="M540.5 652V684.5" stroke="#058080" fill="none"/>
<path d="M536.5 665.7H544.5L540.5 671.8Z" fill="#058080" stroke="#058080"/>
<path d="M536 672H545" stroke="#058080" fill="none"/>
<path d="M546.5 666.3H554.5M546.5 671.1H554.5" stroke="#058080" fill="none"/>
<circle cx="552" cy="666.3" r="1.5" fill="#058080"/><circle cx="552" cy="671.1" r="1.5" fill="#058080"/>
<rect x="561" y="660" width="2.2" height="16.6" fill="#058080"/>
<path d="M562 668.5H556.5V652" stroke="#058080" fill="none"/>
<path d="M563 664L572.5 657.5V652" stroke="#058080" fill="none"/>
<path d="M563 672L572.5 677.4V684.4" stroke="#058080" fill="none"/>
<path d="M572 677.2L566.5 677L568.5 673Z" fill="#058080"/>
<rect x="530.5" y="736.5" width="47.5" height="24" rx="9" ry="12" stroke="#058080" fill="none"/>
<path d="M540.5 732V764.5" stroke="#058080" fill="none"/>
<path d="M536.5 745.7H544.5L540.5 751.8Z" fill="#058080" stroke="#058080"/>
<path d="M536 752H545" stroke="#058080" fill="none"/>
<path d="M546.5 746.3H554.5M546.5 751.1H554.5" stroke="#058080" fill="none"/>
<circle cx="552" cy="746.3" r="1.5" fill="#058080"/><circle cx="552" cy="751.1" r="1.5" fill="#058080"/>
<rect x="561" y="740" width="2.2" height="16.6" fill="#058080"/>
<path d="M562 748.5H556.5V732" stroke="#058080" fill="none"/>
<path d="M563 744L572.5 737.5V732" stroke="#058080" fill="none"/>
<path d="M563 752L572.5 757.4V764.4" stroke="#058080" fill="none"/>
<path d="M572 757.2L566.5 757L568.5 753Z" fill="#058080"/>
<rect x="530.5" y="808.5" width="47.5" height="24" rx="9" ry="12" stroke="#058080" fill="none"/>
<path d="M540.5 804V836.5" stroke="#058080" fill="none"/>
<path d="M536.5 817.7H544.5L540.5 823.8Z" fill="#058080" stroke="#058080"/>
<path d="M536 824H545" stroke="#058080" fill="none"/>
<path d="M546.5 818.3H554.5M546.5 823.1H554.5" stroke="#058080" fill="none"/>
<circle cx="552" cy="818.3" r="1.5" fill="#058080"/><circle cx="552" cy="823.1" r="1.5" fill="#058080"/>
<rect x="561" y="812" width="2.2" height="16.6" fill="#058080"/>
<path d="M562 820.5H556.5V804" stroke="#058080" fill="none"/>
<path d="M563 816L572.5 809.5V804" stroke="#058080" fill="none"/>
<path d="M563 824L572.5 829.4V836.4" stroke="#058080" fill="none"/>
<path d="M572 829.2L566.5 829L568.5 825Z" fill="#058080"/>
<text transform="translate(55.9,206.2) rotate(-90)" font-size="10" fill="#147080" textLength="21.2" lengthAdjust="spacingAndGlyphs">V1 4</text>
<text transform="translate(91.9,214.5) rotate(-90)" font-size="10" fill="#147080" textLength="40.9" lengthAdjust="spacingAndGlyphs">C9 470u</text>
<text transform="translate(131.3,214.5) rotate(-90)" font-size="10" fill="#147080" textLength="40.9" lengthAdjust="spacingAndGlyphs">C1 470u</text>
<text transform="translate(168.8,206.2) rotate(-90)" font-size="10" fill="#147080" textLength="41.2" lengthAdjust="spacingAndGlyphs">C2 100n</text>
<text transform="translate(216.4,191.9) rotate(-90)" font-size="10" fill="#147080" textLength="27.9" lengthAdjust="spacingAndGlyphs">R1 47</text>
<text transform="translate(246.1,217.2) rotate(-90)" font-size="10" fill="#147080" textLength="71.7" lengthAdjust="spacingAndGlyphs">T1 (IRLB8743)</text>
<text transform="translate(296.6,191.2) rotate(-90)" font-size="10" fill="#147080" textLength="33.4" lengthAdjust="spacingAndGlyphs">R3 12k</text>
<text transform="translate(356.1,96.6) rotate(-90)" font-size="10" fill="#147080" textLength="68" lengthAdjust="spacingAndGlyphs">Z1 BZV55C12</text>
<text transform="translate(413.1,97.3) rotate(-90)" font-size="10" fill="#147080" textLength="54.6" lengthAdjust="spacingAndGlyphs">D1 1N4148</text>
<text transform="translate(383.4,132.5) rotate(-90)" font-size="10" fill="#147080" textLength="28.1" lengthAdjust="spacingAndGlyphs">C5 1n</text>
<text transform="translate(543.3,108.9) rotate(-90)" font-size="10" fill="#147080" textLength="40.7" lengthAdjust="spacingAndGlyphs">C6 470u</text>
<text transform="translate(575.2,109) rotate(-90)" font-size="10" fill="#147080" textLength="41" lengthAdjust="spacingAndGlyphs">C7 470u</text>
<text transform="translate(607.1,109) rotate(-90)" font-size="10" fill="#147080" textLength="46.3" lengthAdjust="spacingAndGlyphs">C12 470u</text>
<text transform="translate(646.8,107.5) rotate(-90)" font-size="10" fill="#147080" textLength="41.3" lengthAdjust="spacingAndGlyphs">C8 100n</text>
<text transform="translate(466.6,240) rotate(-90)" font-size="10" fill="#147080" textLength="36.3" lengthAdjust="spacingAndGlyphs">R6 1,2k</text>
<text transform="translate(527.8,220.4) rotate(-90)" font-size="10" fill="#147080" textLength="37" lengthAdjust="spacingAndGlyphs">R7 2,7k</text>
<text transform="translate(562.7,217.7) rotate(-90)" font-size="10" fill="#147080" textLength="33.2" lengthAdjust="spacingAndGlyphs">R9 12k</text>
<text transform="translate(557.6,282.5) rotate(-90)" font-size="10" fill="#147080" textLength="35" lengthAdjust="spacingAndGlyphs">R8 550</text>
<text transform="translate(502.9,302.8) rotate(-90)" font-size="10" fill="#147080" textLength="25" lengthAdjust="spacingAndGlyphs">4N33</text>
<text transform="translate(446.6,319.7) rotate(-90)" font-size="10" fill="#147080" textLength="9.9" lengthAdjust="spacingAndGlyphs">T1</text>
<text transform="translate(671.1,285) rotate(-90)" font-size="10" fill="#147080" textLength="42.5" lengthAdjust="spacingAndGlyphs">R10 1,5k</text>
<text transform="translate(214.4,335.8) rotate(-90)" font-size="10" fill="#147080" textLength="38" lengthAdjust="spacingAndGlyphs">C3 1,5n</text>
<text transform="translate(295.3,307) rotate(-90)" font-size="10" fill="#147080" textLength="12" lengthAdjust="spacingAndGlyphs">T2</text>
<text transform="translate(243.8,359.4) rotate(-90)" font-size="10" fill="#147080" textLength="36.6" lengthAdjust="spacingAndGlyphs">R5 50m</text>
<text transform="translate(257.6,359.4) rotate(-90)" font-size="10" fill="#147080" textLength="45.4" lengthAdjust="spacingAndGlyphs">Power 14</text>
<text transform="translate(365.3,360) rotate(-90)" font-size="10" fill="#147080" textLength="55" lengthAdjust="spacingAndGlyphs">D2 1N4148</text>
<text transform="translate(102.1,461.2) rotate(-90)" font-size="10" fill="#147080" textLength="47.5" lengthAdjust="spacingAndGlyphs">C11 100n</text>
<text transform="translate(130.8,449.5) rotate(-90)" font-size="10" fill="#147080" textLength="37.2" lengthAdjust="spacingAndGlyphs">R12 2M</text>
<text transform="translate(75.8,542.5) rotate(-90)" font-size="10" fill="#147080" textLength="46.3" lengthAdjust="spacingAndGlyphs">C10 100u</text>
<text transform="translate(125.8,546) rotate(-90)" font-size="10" fill="#147080" textLength="39.5" lengthAdjust="spacingAndGlyphs">P3 100k</text>
<text transform="translate(129.1,606.2) rotate(-90)" font-size="10" fill="#147080" textLength="46.2" lengthAdjust="spacingAndGlyphs">R14 1,2M</text>
<text transform="translate(183.1,444.5) rotate(-90)" font-size="10" fill="#147080" textLength="46.8" lengthAdjust="spacingAndGlyphs">R13 2,4M</text>
<text transform="translate(183.3,494.4) rotate(-90)" font-size="10" fill="#147080" textLength="38.6" lengthAdjust="spacingAndGlyphs">P2 100k</text>
<text transform="translate(187.4,608.3) rotate(-90)" font-size="10" fill="#147080" textLength="37.1" lengthAdjust="spacingAndGlyphs">R15 1M</text>
<text transform="translate(435.4,480.8) rotate(-90)" font-size="10" fill="#147080" textLength="43.5" lengthAdjust="spacingAndGlyphs">R17 1,2k</text>
<text transform="translate(396.4,607.8) rotate(-90)" font-size="10" fill="#147080" textLength="46.1" lengthAdjust="spacingAndGlyphs">R16 2,7M</text>
<text transform="translate(434.9,608.2) rotate(-90)" font-size="10" fill="#147080" textLength="40.2" lengthAdjust="spacingAndGlyphs">R19 10k</text>
<text transform="translate(499.6,609.2) rotate(-90)" font-size="10" fill="#147080" textLength="38" lengthAdjust="spacingAndGlyphs">R20 10k</text>
<text transform="translate(55.6,654.6) rotate(-90)" font-size="10" fill="#147080" textLength="29.7" lengthAdjust="spacingAndGlyphs">V2 4,1</text>
<text transform="translate(55.6,742.4) rotate(-90)" font-size="10" fill="#147080" textLength="29.7" lengthAdjust="spacingAndGlyphs">V3 4,1</text>
<text transform="translate(55.6,830.3) rotate(-90)" font-size="10" fill="#147080" textLength="29.8" lengthAdjust="spacingAndGlyphs">V4 4,1</text>
<text x="232.6" y="266.8" font-size="10" fill="#147080" textLength="32.9" lengthAdjust="spacingAndGlyphs">R4 750</text>
<text x="328.3" y="226.8" font-size="10" fill="#147080" textLength="27.7" lengthAdjust="spacingAndGlyphs">R2 22</text>
<text x="376.4" y="218.7" font-size="10" fill="#147080" textLength="36" lengthAdjust="spacingAndGlyphs">C4 2,2n</text>
<text x="497.7" y="154.8" font-size="10" fill="#147080" textLength="11.8" lengthAdjust="spacingAndGlyphs">D3</text>
<text x="696.5" y="152" font-size="10" fill="#147080" textLength="12" lengthAdjust="spacingAndGlyphs">D4</text>
<text x="596" y="206.3" font-size="10" fill="#147080" textLength="33" lengthAdjust="spacingAndGlyphs">P1 470</text>
<text x="591" y="328.8" font-size="10" fill="#147080" textLength="44" lengthAdjust="spacingAndGlyphs">U1 TL431</text>
<text x="264.5" y="455.5" font-size="10" fill="#147080" textLength="56.5" lengthAdjust="spacingAndGlyphs">U2 MAX923</text>
<text x="384.4" y="426.9" font-size="10" fill="#147080" textLength="31.6" lengthAdjust="spacingAndGlyphs">P4 82k</text>
<text x="480.5" y="515" font-size="10" fill="#147080" textLength="41.5" lengthAdjust="spacingAndGlyphs">R18 1,2k</text>
<text x="548.7" y="517" font-size="10" fill="#147080" textLength="23.8" lengthAdjust="spacingAndGlyphs">4N33</text>
<text x="538.7" y="642" font-size="10" fill="#147080" textLength="23.8" lengthAdjust="spacingAndGlyphs">4N33</text>
<text x="539.7" y="722.8" font-size="10" fill="#147080" textLength="24.3" lengthAdjust="spacingAndGlyphs">4N33</text>
<text x="539.7" y="795.2" font-size="10" fill="#147080" textLength="24.3" lengthAdjust="spacingAndGlyphs">4N33</text>
<text x="694" y="649.7" font-size="10" fill="#147080" textLength="11.4" lengthAdjust="spacingAndGlyphs">D5</text>
<text x="690.5" y="730" font-size="10" fill="#147080" textLength="12.7" lengthAdjust="spacingAndGlyphs">D6</text>
<text x="689.5" y="801" font-size="10" fill="#147080" textLength="12.5" lengthAdjust="spacingAndGlyphs">D7</text>
</svg></body></html>
